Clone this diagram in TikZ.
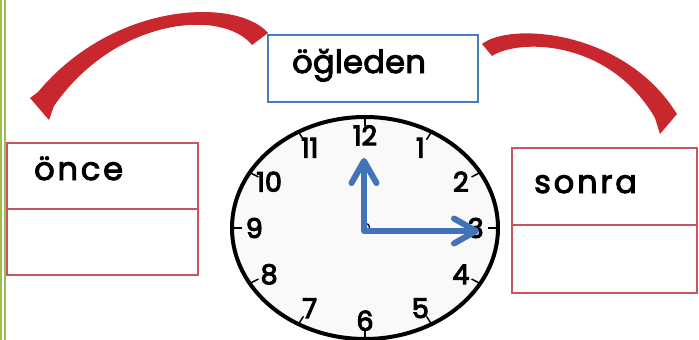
\documentclass[tikz,border=0pt]{standalone}
\usepackage{fontspec}
\setmainfont{Poppins}
\newfontfamily\wordfont{Poppins}[LetterSpace=9, FakeBold=3]
\newfontfamily\noonfont{Poppins}[LetterSpace=1, FakeBold=3]
\newfontfamily\numfont{Poppins}[FakeBold=4]
\usetikzlibrary{
    shapes.geometric,
    arrows.meta,
    positioning
}
\definecolor{boxred}{RGB}{200, 85, 95}
\definecolor{boxblue}{RGB}{70, 125, 190}
\definecolor{handblue}{RGB}{65, 115, 185}
\definecolor{brushred}{RGB}{200, 40, 45}
\definecolor{bordergreen}{RGB}{155, 190, 85}
\tikzset{
    cell/.style={draw=boxred, line width=2.4pt, minimum width=191pt, minimum height=66pt,
                 inner sep=0pt, outer sep=0pt},
    wordtext/.style={font=\fontsize{32}{32}\wordfont, inner sep=0pt, anchor=base west},
    clocknum/.style={font=\fontsize{27}{27}\numfont, inner sep=0pt},
    tickmark/.style={line width=1.5pt},
    hand/.style={handblue, line width=6pt, line join=round,
                 {Straight Barb[length=22pt, width=25pt, round]}-{Straight Barb[length=22pt, width=25pt, round]}},
    brush/.style={fill=brushred}
}

\begin{document}
\begin{tikzpicture}[x=1pt, y=-1pt]
    \useasboundingbox (0,0) rectangle (699,340);

    % Page border
    \draw[bordergreen, line width=2pt] (1,0) -- (1,340);
    \draw[bordergreen, line width=2pt] (5,0) -- (5,340);

    % Word boxes
    \node[draw=boxblue, line width=2pt, minimum width=210pt, minimum height=67pt] (noon) at (373,68.5) {};
    \node[wordtext, font=\fontsize{32}{32}\noonfont] (noonword) at (292,73) {öğleden};

    \node[cell] (before) at (102.5,176) {};
    \node[cell, below=0pt of before] (beforeblank) {};
    \node[wordtext] (beforeword) at (34,180) {önce};

    \node[cell, minimum width=185pt, minimum height=77pt] (after) at (604.5,186.5) {};
    \node[cell, minimum width=185pt, minimum height=68pt, below=0pt of after] (afterblank) {};
    \node[wordtext] (afterword) at (534,193) {sonra};

    % Brush arrows
    \fill[brush] (268,33) .. controls (238,-2) and (115,0) .. (38,92) -- (30,98) -- (49,120)
        -- (54,106) .. controls (115,18) and (222,8) .. (252,45) -- cycle;
    \fill[brush] (482,44) .. controls (510,22) and (620,30) .. (673,108) -- (677,114) -- (660,134)
        -- (655,118) .. controls (610,40) and (520,38) .. (492,56) -- cycle;

    % Clock face
    \coordinate (c) at (365,228);
    \draw[line width=4pt, fill=gray!5] (c) ellipse [x radius=133pt, y radius=111pt];
    \foreach \h in {1,...,12} {
        \pgfmathsetmacro\ang{90-30*\h}
        \draw[tickmark] ({365+133*cos(\ang)},{228-111*sin(\ang)}) -- ({365+123*cos(\ang)},{228-102*sin(\ang)});
        \node[clocknum] (n\h) at ({365+0.82*135*cos(\ang)},{228-0.82*113*sin(\ang)}) {\h};
    }

    % Hands
    \node[circle, draw, line width=1.2pt, minimum size=7pt, inner sep=0pt] (hub) at (366,227) {};
    \coordinate (pivot) at (364,231);
    \coordinate (minute) at (364,158);
    \coordinate (hour) at (479,231);
    \draw[hand] (minute) -- (pivot) -- (hour);
\end{tikzpicture}
\end{document}
